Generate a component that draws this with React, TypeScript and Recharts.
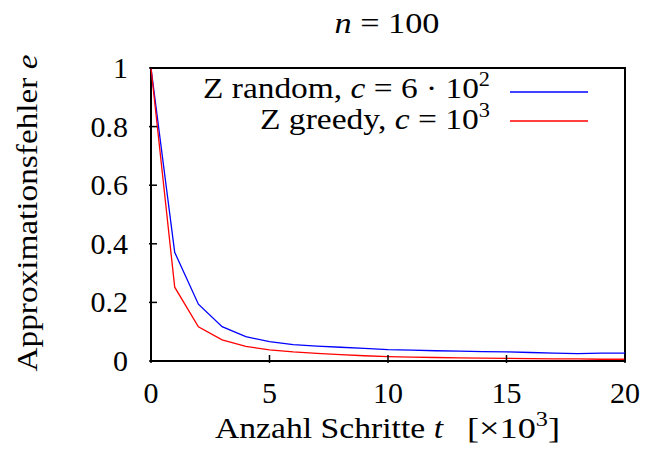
import React from "react";
import {
  LineChart,
  Line,
  XAxis,
  YAxis,
  ReferenceArea,
  Legend,
} from "recharts";

// Schritte t in Tausend
const steps = [0, 1, 2, 3, 4, 5, 6, 7, 8, 9, 10, 11, 12, 13, 14, 15, 16, 17, 18, 19, 20];

// Approximationsfehler e
const randomErr = [
  1, 0.371, 0.194, 0.117, 0.083, 0.066, 0.056, 0.051, 0.047, 0.043, 0.039,
  0.037, 0.035, 0.034, 0.032, 0.031, 0.029, 0.027, 0.025, 0.027, 0.027,
];
const greedyErr = [
  1, 0.252, 0.117, 0.072, 0.05, 0.038, 0.031, 0.026, 0.022, 0.018, 0.015,
  0.013, 0.012, 0.011, 0.01, 0.009, 0.008, 0.007, 0.007, 0.006, 0.006,
];

const xTicks = [0, 5, 10, 15, 20];
const yTicks = [0, 0.2, 0.4, 0.6, 0.8, 1];

const data = steps.map((t, i) => ({ t, random: randomErr[i], greedy: greedyErr[i] }));

const FONT = "'Liberation Serif', 'DejaVu Serif', serif";
const FS = 30;
const SUP = 20;

const XTick = (props: any) => {
  const { x, y, payload } = props;
  return (
    <g>
      <line x1={x} y1={y} x2={x} y2={y - 8} stroke="#000" strokeWidth={1.5} />
      <text x={x} y={y + 40} textAnchor="middle" fontFamily={FONT} fontSize={FS} fill="#000">
        {payload.value}
      </text>
    </g>
  );
};

const YTick = (props: any) => {
  const { x, y, payload } = props;
  return (
    <g>
      <line x1={x} y1={y} x2={x + 8} y2={y} stroke="#000" strokeWidth={1.5} />
      <text x={x - 21} y={y + 10} textAnchor="end" fontFamily={FONT} fontSize={FS} fill="#000">
        {payload.value}
      </text>
    </g>
  );
};

// legend drawn in its own svg, offset 50px from the page top
const LegendBox = () => (
  <svg width={645} height={95} style={{ display: "block", overflow: "visible" }}>
    <text x={490} y={48} textAnchor="end" textLength={287} lengthAdjust="spacingAndGlyphs" fontFamily={FONT} fontSize={FS} fill="#000">
      Z random, <tspan fontStyle="italic">c</tspan> = 6 · 10
      <tspan fontSize={SUP} dy={-12}>2</tspan>
    </text>
    <line x1={510} y1={42} x2={588} y2={42} stroke="#0000ff" strokeWidth={1.3} />
    <text x={490} y={79} textAnchor="end" textLength={230} lengthAdjust="spacingAndGlyphs" fontFamily={FONT} fontSize={FS} fill="#000">
      Z greedy, <tspan fontStyle="italic">c</tspan> = 10
      <tspan fontSize={SUP} dy={-12}>3</tspan>
    </text>
    <line x1={510} y1={71} x2={588} y2={71} stroke="#ff0000" strokeWidth={1.3} />
  </svg>
);

export default function App() {
  return (
    <div style={{ position: "absolute", left: 0, top: 0, width: 645, height: 456, background: "#fff" }}>
      <LineChart width={645} height={456} data={data} margin={{ top: 68, right: 20, left: 0, bottom: 35 }}>
        <XAxis
          dataKey="t"
          type="number"
          domain={[0, 20]}
          ticks={xTicks}
          tick={<XTick />}
          tickLine={false}
          tickSize={0}
          axisLine={false}
          height={60}
        />
        <YAxis
          type="number"
          domain={[0, 1]}
          ticks={yTicks}
          tick={<YTick />}
          tickLine={false}
          tickSize={0}
          axisLine={false}
          width={151}
        />
        <ReferenceArea x1={0} x2={20} y1={0} y2={1} fill="none" stroke="#000" strokeWidth={2} />
        <Legend
          layout="horizontal"
          verticalAlign="middle"
          align="center"
          wrapperStyle={{ top: 50, left: 0, width: 645, height: 95 }}
          content={() => <LegendBox />}
        />
        <Line dataKey="random" stroke="#0000ff" strokeWidth={1.3} dot={false} isAnimationActive={false} />
        <Line dataKey="greedy" stroke="#ff0000" strokeWidth={1.3} dot={false} isAnimationActive={false} />
        <text x={387} y={33} textAnchor="middle" textLength={105} lengthAdjust="spacingAndGlyphs" fontFamily={FONT} fontSize={FS} fill="#000">
          <tspan fontStyle="italic">n</tspan> = 100
        </text>
        <text x={215} y={438} textLength={228} lengthAdjust="spacingAndGlyphs" fontFamily={FONT} fontSize={FS} fill="#000">
          Anzahl Schritte <tspan fontStyle="italic">t</tspan>
        </text>
        <text x={467} y={438} textLength={93} lengthAdjust="spacingAndGlyphs" fontFamily={FONT} fontSize={FS} fill="#000">
          [×10<tspan fontSize={SUP} dy={-12}>3</tspan><tspan dy={12}>]</tspan>
        </text>
        <text
          x={37}
          y={213}
          transform="rotate(-90 37 213)"
          textAnchor="middle"
          textLength={317}
          lengthAdjust="spacingAndGlyphs"
          fontFamily={FONT}
          fontSize={FS}
          fill="#000"
        >
          Approximationsfehler <tspan fontStyle="italic">e</tspan>
        </text>
      </LineChart>
    </div>
  );
}
